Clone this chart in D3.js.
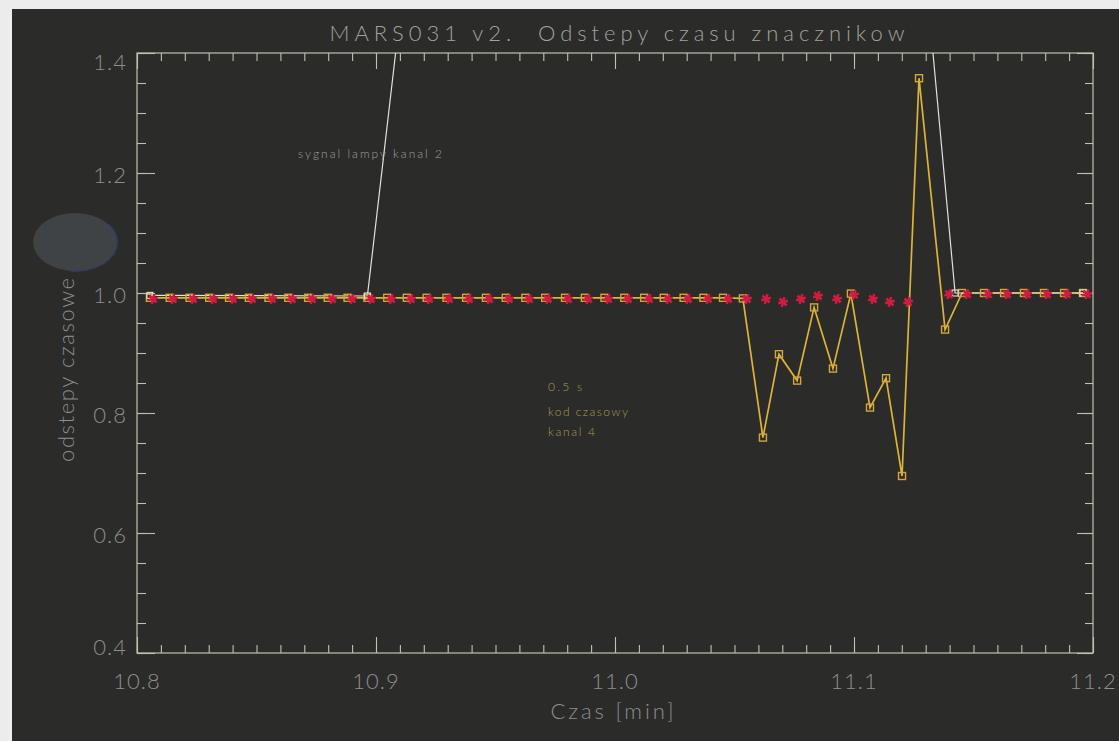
<!DOCTYPE html>
<html>
<head>
<meta charset="utf-8">
<script src="https://cdn.jsdelivr.net/npm/d3@7"></script>
<style>
  html, body { margin: 0; padding: 0; background: #2b2b2a; }
  svg { display: block; }
  text { font-family: Lato, "DejaVu Sans", sans-serif; font-weight: 300; white-space: pre; }
</style>
</head>
<body>
<svg id="chart" width="1119" height="741"></svg>
<script>
// Kanal 4: 0.5 s time-code intervals (time in minutes, interval value)
const codeTimes = [
  10.8054, 10.8137, 10.8220, 10.8302, 10.8385, 10.8468, 10.8550, 10.8633,
  10.8716, 10.8798, 10.8881, 10.8964, 10.9047, 10.9129, 10.9212, 10.9295,
  10.9377, 10.9460, 10.9543, 10.9625, 10.9708, 10.9791, 10.9874, 10.9956,
  11.0039, 11.0122, 11.0204, 11.0287, 11.0370, 11.0452, 11.0535,
  11.0619, 11.0686, 11.0762, 11.0833, 11.0912, 11.0987, 11.1067, 11.1134,
  11.1201, 11.1272, 11.1381, 11.1452, 11.1544, 11.1628, 11.1711, 11.1795,
  11.1879, 11.1958
];
const codeValues = [
  0.992, 0.992, 0.992, 0.992, 0.992, 0.992, 0.992, 0.992,
  0.992, 0.992, 0.992, 0.992, 0.992, 0.992, 0.992, 0.992,
  0.992, 0.992, 0.992, 0.992, 0.992, 0.992, 0.992, 0.992,
  0.992, 0.992, 0.992, 0.992, 0.992, 0.992, 0.991,
  0.759, 0.898, 0.854, 0.976, 0.874, 0.999, 0.809, 0.858,
  0.695, 1.358, 0.939, 1.000, 1.000, 1.000, 1.000, 1.000,
  1.000, 1.000
];

// Kanal 2: lamp signal intervals
const lampTimes  = [10.8054, 10.8964, 11.0335, 11.1423, 11.1958];
const lampValues = [0.996, 0.995, 5.70, 1.000, 1.000];

// Reference channel markers (red)
const refTimes = [
  10.8063, 10.8146, 10.8230, 10.8314, 10.8397, 10.8477, 10.8561, 10.8644,
  10.8728, 10.8812, 10.8895, 10.8975, 10.9059, 10.9142, 10.9218, 10.9301,
  10.9385, 10.9469, 10.9552, 10.9636, 10.9715, 10.9799, 10.9883, 10.9967,
  11.0050, 11.0138, 11.0218, 11.0301, 11.0385, 11.0469, 11.0548,
  11.0628, 11.0699, 11.0774, 11.0845, 11.0925, 11.0996, 11.1075, 11.1146,
  11.1222, 11.1393, 11.1469, 11.1556, 11.1636, 11.1720, 11.1803, 11.1887,
  11.1971
];
const refValues = [
  0.990, 0.990, 0.990, 0.990, 0.990, 0.990, 0.990, 0.990,
  0.990, 0.990, 0.990, 0.990, 0.990, 0.990, 0.990, 0.990,
  0.990, 0.990, 0.990, 0.990, 0.990, 0.990, 0.990, 0.990,
  0.990, 0.990, 0.990, 0.990, 0.990, 0.990, 0.990,
  0.990, 0.985, 0.990, 0.995, 0.990, 0.997, 0.990, 0.985,
  0.985, 0.998, 0.998, 0.998, 0.998, 0.998, 0.998, 0.998,
  0.998
];

const xMajorTicks = [10.8, 10.9, 11.0, 11.1, 11.2];
const yMajorTicks = [0.4, 0.6, 0.8, 1.0, 1.2, 1.4];

const titleText = "MARS031 v2.  Odstepy czasu znacznikow";
const xLabel = "Czas [min]";
const yLabel = "odstepy czasowe";

// ---- layout ----
const W = 1119, H = 741;
const m = { left: 137, right: 1093, top: 53, bottom: 653 };

const svg = d3.select("#chart");

// scanned-page margin along the top and left edges
svg.append("rect").attr("x", 0).attr("y", 0).attr("width", W).attr("height", H).attr("fill", "#2b2b2a");
svg.append("rect").attr("x", 0).attr("y", 0).attr("width", W).attr("height", 9).attr("fill", "#ececec");
svg.append("rect").attr("x", 0).attr("y", 0).attr("width", 12).attr("height", H).attr("fill", "#ececec");

// reflection spot on the screen
svg.append("ellipse")
  .attr("cx", 75).attr("cy", 242).attr("rx", 42).attr("ry", 29)
  .attr("fill", "#3f4345");
svg.append("path")
  .attr("d", "M 108 224 A 42 29 0 0 1 70 271")
  .attr("fill", "none").attr("stroke", "#34407a").attr("stroke-width", 1.3)
  .attr("stroke-opacity", 0.7);

const x = d3.scaleLinear().domain([10.8, 11.2]).range([m.left, m.right]);
const y = d3.scaleLinear().domain([0.4, 1.4]).range([m.bottom, m.top]);

const axisColor = "#c4c0ae";
const labelColor = "#8e8e8e";

const defs = svg.append("defs");
defs.append("clipPath").attr("id", "plotClip")
  .append("rect")
  .attr("x", m.left).attr("y", m.top)
  .attr("width", m.right - m.left).attr("height", m.bottom - m.top);
defs.append("filter").attr("id", "soft")
  .append("feGaussianBlur").attr("stdDeviation", 0.7);

// ---- axes (ticks point inward on all four sides) ----
const xMinor = d3.range(0, 41).map(i => 10.8 + i * 0.01);
const yMinor = d3.range(0, 21).map(i => 0.4 + i * 0.05);

function styleAxis(g) {
  g.select(".domain").remove();
  g.selectAll("line").attr("stroke", axisColor).attr("stroke-width", 1.1);
}

const axisG = svg.append("g");

axisG.append("g").attr("transform", `translate(0,${m.bottom})`)
  .call(d3.axisBottom(x).tickValues(xMinor).tickSize(-8).tickFormat(""))
  .call(styleAxis);
axisG.append("g").attr("transform", `translate(0,${m.bottom})`)
  .call(d3.axisBottom(x).tickValues(xMajorTicks).tickSize(-16).tickFormat(""))
  .call(styleAxis);
axisG.append("g").attr("transform", `translate(0,${m.top})`)
  .call(d3.axisTop(x).tickValues(xMinor).tickSize(-8).tickFormat(""))
  .call(styleAxis);
axisG.append("g").attr("transform", `translate(0,${m.top})`)
  .call(d3.axisTop(x).tickValues(xMajorTicks).tickSize(-16).tickFormat(""))
  .call(styleAxis);
axisG.append("g").attr("transform", `translate(${m.left},0)`)
  .call(d3.axisLeft(y).tickValues(yMinor).tickSize(-9).tickFormat(""))
  .call(styleAxis);
axisG.append("g").attr("transform", `translate(${m.left},0)`)
  .call(d3.axisLeft(y).tickValues(yMajorTicks).tickSize(-18).tickFormat(""))
  .call(styleAxis);
axisG.append("g").attr("transform", `translate(${m.right},0)`)
  .call(d3.axisRight(y).tickValues(yMinor).tickSize(-8).tickFormat(""))
  .call(styleAxis);
axisG.append("g").attr("transform", `translate(${m.right},0)`)
  .call(d3.axisRight(y).tickValues(yMajorTicks).tickSize(-16).tickFormat(""))
  .call(styleAxis);

// frame
axisG.append("rect")
  .attr("x", m.left).attr("y", m.top)
  .attr("width", m.right - m.left).attr("height", m.bottom - m.top)
  .attr("fill", "none").attr("stroke", axisColor).attr("stroke-width", 1.2);

// tick labels
svg.append("g").selectAll("text").data(xMajorTicks).join("text")
  .attr("x", d => x(d)).attr("y", 689)
  .attr("text-anchor", "middle")
  .attr("font-size", 22).attr("letter-spacing", 1)
  .attr("fill", labelColor)
  .text(d => d3.format(".1f")(d));

svg.append("g").selectAll("text").data(yMajorTicks).join("text")
  .attr("x", m.left - 10)
  .attr("y", d => Math.max(70, Math.min(655, y(d) + 10)))
  .attr("text-anchor", "end")
  .attr("font-size", 22).attr("letter-spacing", 1)
  .attr("fill", labelColor)
  .text(d => d3.format(".1f")(d));

// title and axis titles
svg.append("text")
  .attr("x", 617).attr("y", 41)
  .attr("text-anchor", "middle")
  .attr("font-size", 22)
  .attr("textLength", 575).attr("lengthAdjust", "spacing")
  .attr("fill", "#a2a29c")
  .text(titleText);

svg.append("text")
  .attr("x", 612).attr("y", 719)
  .attr("text-anchor", "middle")
  .attr("font-size", 22)
  .attr("textLength", 123).attr("lengthAdjust", "spacing")
  .attr("fill", labelColor)
  .text(xLabel);

svg.append("text")
  .attr("transform", "translate(74,370) rotate(-90)")
  .attr("text-anchor", "middle")
  .attr("font-size", 22)
  .attr("textLength", 184).attr("lengthAdjust", "spacing")
  .attr("fill", labelColor)
  .text(yLabel);

// ---- data ----
const plot = svg.append("g").attr("clip-path", "url(#plotClip)");

const codeData = codeTimes.map((t, i) => [t, codeValues[i]]);
const lampData = lampTimes.map((t, i) => [t, lampValues[i]]);
const refData  = refTimes.map((t, i) => [t, refValues[i]]);

const line = d3.line().x(d => x(d[0])).y(d => y(d[1]));

// kanal 4 line
plot.append("path").datum(codeData)
  .attr("d", line)
  .attr("fill", "none").attr("stroke", "#dcb437").attr("stroke-width", 1.7);

// lamp signal (kanal 2)
plot.append("path").datum(lampData)
  .attr("d", line)
  .attr("fill", "none").attr("stroke", "#e2e2dc").attr("stroke-width", 1.2);

// kanal 4 square markers
plot.append("g").selectAll("rect").data(codeData).join("rect")
  .attr("x", d => x(d[0]) - 3.5).attr("y", d => y(d[1]) - 3.5)
  .attr("width", 7).attr("height", 7)
  .attr("fill", "none").attr("stroke", "#d8a632").attr("stroke-width", 1.4);

plot.append("g").selectAll("rect").data(lampData).join("rect")
  .attr("x", d => x(d[0]) - 3).attr("y", d => y(d[1]) - 3)
  .attr("width", 6).attr("height", 6)
  .attr("fill", "none").attr("stroke", "#e2e2dc").attr("stroke-width", 1.1);

// red asterisk markers
const star = d3.symbol().type(d3.symbolAsterisk).size(70);
plot.append("g").attr("filter", "url(#soft)")
  .selectAll("path").data(refData).join("path")
  .attr("transform", d => `translate(${x(d[0]) + 1},${y(d[1])}) rotate(15)`)
  .attr("d", star)
  .attr("fill", "none").attr("stroke", "#d01a40").attr("stroke-width", 2.6);

// annotations
svg.append("text")
  .attr("x", 298).attr("y", 158)
  .attr("font-size", 12)
  .attr("textLength", 144).attr("lengthAdjust", "spacing")
  .attr("fill", "#a0a0a0")
  .text("sygnal lampy kanal 2");

const codeNote = ["0.5 s", "kod czasowy", "kanal 4"];
const codeNoteLen = [34, 80, 47];
svg.append("g").selectAll("text").data(codeNote).join("text")
  .attr("x", 548).attr("y", (d, i) => [391, 416, 436][i])
  .attr("font-size", 12)
  .attr("textLength", (d, i) => codeNoteLen[i]).attr("lengthAdjust", "spacing")
  .attr("fill", "#ad9c4e")
  .text(d => d);
</script>
</body>
</html>
